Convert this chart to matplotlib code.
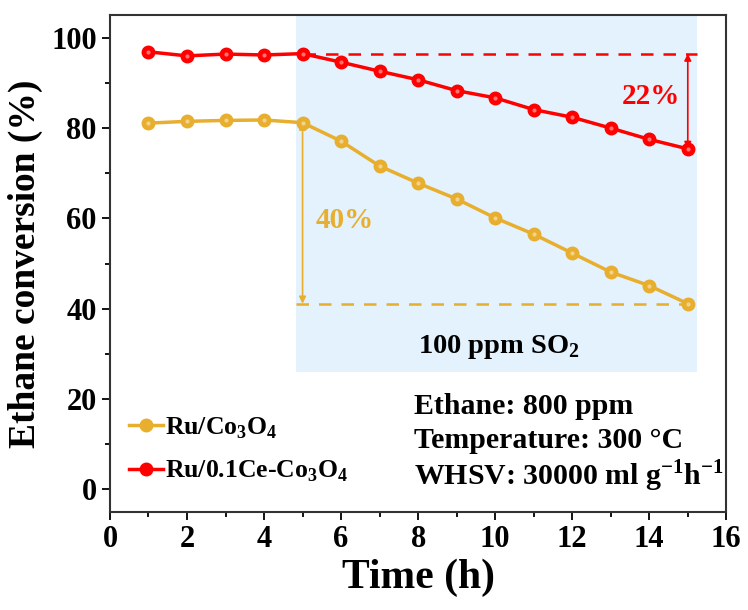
import matplotlib.pyplot as plt
import numpy as np

plt.rcParams['font.family'] = ['Liberation Serif', 'DejaVu Serif']
plt.rcParams['font.weight'] = 'bold'
plt.rcParams['axes.labelweight'] = 'bold'
plt.rcParams['mathtext.fontset'] = 'custom'
plt.rcParams['mathtext.rm'] = 'Liberation Serif:bold'
plt.rcParams['mathtext.bf'] = 'Liberation Serif:bold'

# data
time_h = np.arange(1, 16)
ru_co = [81.1, 81.5, 81.7, 81.8, 81.2, 77.1, 71.6, 67.8, 64.3, 60.1,
         56.5, 52.3, 48.1, 45.1, 41.1]
ru_ce = [96.9, 96.0, 96.4, 96.2, 96.5, 94.6, 92.6, 90.7, 88.3, 86.7,
         84.1, 82.4, 80.0, 77.5, 75.4]
labels = ['Ru/Co$_3$O$_4$', 'Ru/0.1Ce-Co$_3$O$_4$']
conditions = ['Ethane: 800 ppm', 'Temperature: 300 \u00b0C',
              'WHSV: 30000 ml g$^{-1}$h$^{-1}$']
so2_start, so2_end = 4.83, 15.25

orange = '#E8AE2E'
red = '#FF0000'

fig = plt.figure(figsize=(7.48, 6.10), dpi=100)
ax = fig.add_axes([0.147, 0.161, 0.824, 0.814])

# SO2 period shading
ax.fill_between([so2_start, so2_end], 26, 105, color='#E3F2FC', lw=0, zorder=0)
ax.text(10.1, 31.5, '100 ppm SO$_2$', ha='center', va='center', fontsize=20.5)

for y, c, lab in [(ru_co, orange, labels[0]), (ru_ce, red, labels[1])]:
    ax.plot(time_h, y, '-o', color=c, lw=2.5, ms=9, mec=c, label=lab, zorder=3)
    # little highlight to imitate the shaded spheres
    ax.plot(time_h, y, 'o', color='white', alpha=0.45, ms=3, mew=0, zorder=4)

# loss markers
ax.plot([5, so2_end], [ru_ce[4], ru_ce[4]], '--', color=red, lw=1.8, dashes=(5, 4))
ax.plot([so2_start, so2_end], [ru_co[-1], ru_co[-1]], '--', color=orange, lw=1.8, dashes=(5, 4))
ax.annotate('', xy=(15, ru_ce[-1]), xytext=(15, ru_ce[4]),
            arrowprops=dict(arrowstyle='<|-|>', color=red, lw=1.2, mutation_scale=10,
                            shrinkA=0, shrinkB=0))
ax.annotate('', xy=(5, ru_co[-1]), xytext=(5, ru_co[4]),
            arrowprops=dict(arrowstyle='<|-|>', color=orange, lw=1.2, mutation_scale=10,
                            shrinkA=0, shrinkB=0))
ax.text(14.05, 87.0, '22%', color=red, ha='center', va='center', fontsize=21)
ax.text(6.1, 59.5, '40%', color=orange, ha='center', va='center', fontsize=21)

for i, s in enumerate(conditions):
    ax.text(7.9, 18.3 - i * 7.6, s, ha='left', va='center', fontsize=21.5)

leg = ax.legend(loc='lower left', bbox_to_anchor=(0.015, 0.035), frameon=False,
                fontsize=18.5, handlelength=1.3, handletextpad=0.1, labelspacing=0.7,
                borderaxespad=0)

ax.set_xlim(0, 16)
ax.set_ylim(-5, 105)
ax.set_xticks(range(0, 17, 2))
ax.set_xticks(range(1, 16, 2), minor=True)
ax.set_yticks(range(0, 101, 20))
ax.set_yticks(range(10, 100, 20), minor=True)
ax.tick_params(which='both', direction='out', width=1.3, labelsize=22)
ax.tick_params(which='major', length=6)
ax.tick_params(which='minor', length=3.5)
for sp in ax.spines.values():
    sp.set_linewidth(1.5)
    sp.set_color('#333333')

ax.set_xlabel('Time (h)', fontsize=30, labelpad=3)
ax.set_ylabel('Ethane conversion (%)', fontsize=27, labelpad=6)

fig.savefig('out.png', dpi=100)
